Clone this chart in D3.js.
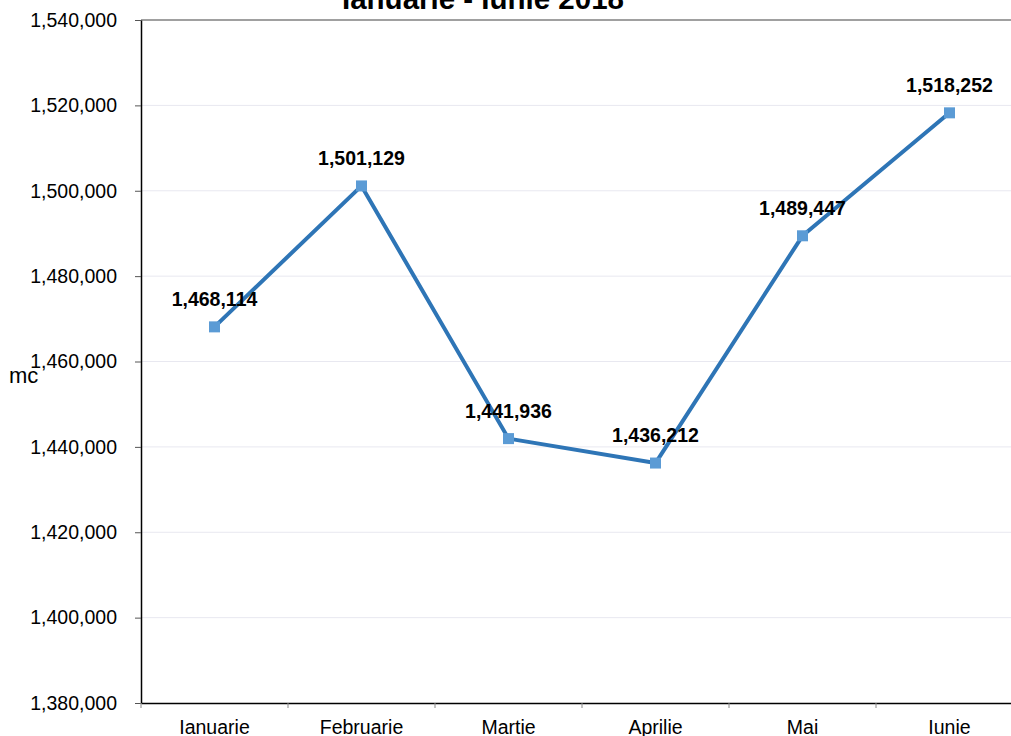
<!DOCTYPE html>
<html>
<head>
<meta charset="utf-8">
<script src="https://cdn.jsdelivr.net/npm/d3@7"></script>
<style>
  body { margin: 0; background: #fff; }
  svg { display: block; font-family: 'Liberation Sans', Arial, sans-serif; }
</style>
</head>
<body>
<div id="chart"></div>
<script>
const months = ['Ianuarie', 'Februarie', 'Martie', 'Aprilie', 'Mai', 'Iunie']
const values = [1468114, 1501129, 1441936, 1436212, 1489447, 1518252]
const yTicks = [1380000, 1400000, 1420000, 1440000, 1460000, 1480000, 1500000, 1520000, 1540000]
const title = 'Ianuarie - Iunie 2018'
const yLabel = 'mc'

const width = 1011
const height = 736
const margin = { top: 20, right: -12, bottom: 33, left: 141 }
const fontFamily = "'Liberation Sans', Arial, sans-serif"

const svg = d3.select('#chart').append('svg').attr('width', width).attr('height', height)

const xScale = d3
  .scaleBand()
  .domain(months)
  .range([margin.left, width - margin.right])

const yScale = d3
  .scaleLinear()
  .domain([1380000, 1540000])
  .range([height - margin.bottom, margin.top])

const fmt = d3.format(',')

// grid lines
svg
  .append('g')
  .selectAll('line')
  .data(yTicks.slice(1, -1))
  .join('line')
  .attr('x1', margin.left)
  .attr('x2', width)
  .attr('y1', (d) => yScale(d))
  .attr('y2', (d) => yScale(d))
  .attr('stroke', '#e8e8f0')
  .attr('stroke-width', 1)

// top border
svg
  .append('line')
  .attr('x1', margin.left)
  .attr('x2', width)
  .attr('y1', yScale(1540000))
  .attr('y2', yScale(1540000))
  .attr('stroke', '#808080')
  .attr('stroke-width', 1.5)

// y axis
svg
  .append('g')
  .attr('transform', `translate(${margin.left},0)`)
  .call(d3.axisLeft(yScale).tickValues(yTicks).tickFormat(fmt).tickSizeInner(6).tickSizeOuter(0).tickPadding(18))
  .call((g) => {
    g.select('.domain').attr('stroke', '#000').attr('stroke-width', 1.5)
    g.selectAll('.tick line').attr('stroke', '#555')
    g.selectAll('.tick text').attr('fill', '#000').attr('font-size', '19.5px').attr('font-family', fontFamily)
  })

// x axis
const xAxis = d3
  .axisBottom(xScale)
  .tickSizeInner(0)
  .tickSizeOuter(0)
  .tickPadding(17)

svg
  .append('g')
  .attr('transform', `translate(0,${height - margin.bottom})`)
  .call(xAxis)
  .call((g) => {
    g.select('.domain').attr('stroke', '#000').attr('stroke-width', 1.5)
    g.selectAll('.tick text').attr('fill', '#000').attr('font-size', '19.5px').attr('font-family', fontFamily)
  })

// x axis separators between categories
svg
  .append('g')
  .selectAll('line')
  .data(months)
  .join('line')
  .attr('x1', (d) => xScale(d))
  .attr('x2', (d) => xScale(d))
  .attr('y1', height - margin.bottom)
  .attr('y2', height - margin.bottom + 5)
  .attr('stroke', '#888')

const cx = (d, i) => xScale(months[i]) + xScale.bandwidth() / 2

// line
svg
  .append('path')
  .datum(values)
  .attr('fill', 'none')
  .attr('stroke', '#2e75b6')
  .attr('stroke-width', 4)
  .attr('stroke-linejoin', 'round')
  .attr('d', d3.line().x(cx).y((d) => yScale(d)))

// markers
svg
  .append('g')
  .selectAll('rect')
  .data(values)
  .join('rect')
  .attr('x', (d, i) => cx(d, i) - 5.5)
  .attr('y', (d) => yScale(d) - 5.5)
  .attr('width', 11)
  .attr('height', 11)
  .attr('fill', '#5b9bd5')

// data labels
svg
  .append('g')
  .selectAll('text')
  .data(values)
  .join('text')
  .attr('x', (d, i) => cx(d, i))
  .attr('y', (d) => yScale(d) - 21)
  .attr('text-anchor', 'middle')
  .attr('font-size', '19.5px')
  .attr('font-weight', 'bold')
  .attr('fill', '#000')
  .text((d) => fmt(d))

// title (cut off at top)
svg
  .append('text')
  .attr('x', 483)
  .attr('y', 9)
  .attr('text-anchor', 'middle')
  .attr('font-size', '29.5px')
  .attr('font-weight', 'bold')
  .text(title)

// y label
svg
  .append('text')
  .attr('x', 9)
  .attr('y', 383)
  .attr('font-size', '22px')
  .text(yLabel)
</script>
</body>
</html>
